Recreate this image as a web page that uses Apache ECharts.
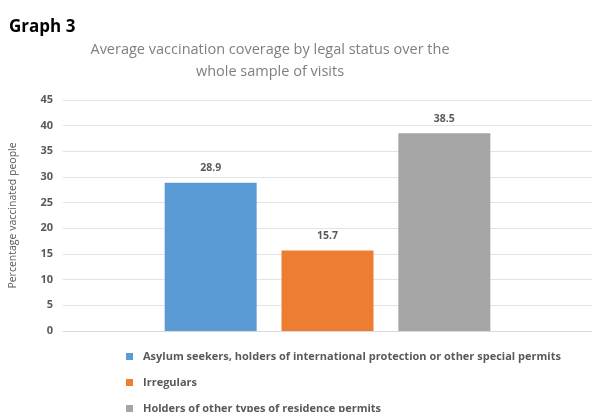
<!DOCTYPE html>
<html>
<head>
<meta charset="utf-8">
<script src="https://cdn.jsdelivr.net/npm/echarts@6/dist/echarts.min.js"></script>
<style>
  html, body { margin: 0; padding: 0; background: #fff; }
  #chart { width: 592px; height: 412px; }
</style>
</head>
<body>
<div id="chart"></div>
<script>
// Legal-status groups and their average vaccination coverage (%)
const statusNames = [
  'Asylum seekers, holders of international protection or other special permits',
  'Irregulars',
  'Holders of other types of residence permits'
];
const coverageValues = [28.9, 15.7, 38.5];
const seriesColors = ['#5B9BD5', '#ED7D31', '#A5A5A5'];
const yTicks = [0, 5, 10, 15, 20, 25, 30, 35, 40, 45];

const chart = echarts.init(document.getElementById('chart'), null, { renderer: 'canvas' });

const series = statusNames.map((name, i) => ({
  name: name,
  type: 'bar',
  data: [coverageValues[i]],
  barWidth: 92,
  barGap: '27%',
  itemStyle: { color: seriesColors[i] },
  label: {
    show: true,
    position: 'top',
    distance: 9,
    color: '#595959',
    fontFamily: 'Open Sans',
    fontWeight: 'bold',
    fontSize: 10.5,
    formatter: p => p.value.toFixed(1)
  }
}));

chart.setOption({
  animation: false,
  textStyle: { fontFamily: 'Open Sans' },
  title: [
    {
      text: 'Graph 3',
      left: 9,
      top: 19,
      padding: 0,
      textStyle: { fontFamily: 'Open Sans', fontWeight: 'bold', fontSize: 17, color: '#000' }
    },
    {
      text: 'Average vaccination coverage by legal status over the\nwhole sample of visits',
      left: 270,
      top: 39,
      padding: 0,
      textAlign: 'center',
      textStyle: { fontFamily: 'Open Sans', fontWeight: 'normal', fontSize: 14.5, color: '#7f7f7f', lineHeight: 22 }
    }
  ],
  legend: {
    orient: 'vertical',
    left: 126,
    top: 349,
    height: 80,
    padding: 0,
    itemGap: 11,
    itemWidth: 7,
    itemHeight: 7,
    icon: 'rect',
    textStyle: { fontFamily: 'Open Sans', fontWeight: 'bold', fontSize: 11, lineHeight: 15, color: '#595959', padding: [0, 0, 0, 5] },
    data: statusNames
  },
  grid: { left: 62, right: 0, top: 100, bottom: 81, containLabel: false },
  xAxis: {
    type: 'category',
    data: [''],
    axisLine: { lineStyle: { color: '#d9d9d9' } },
    axisTick: { show: false },
    axisLabel: { show: false }
  },
  yAxis: {
    type: 'value',
    min: yTicks[0],
    max: yTicks[yTicks.length - 1],
    interval: 5,
    name: 'Percentage vaccinated people',
    nameLocation: 'middle',
    nameGap: 44,
    nameTextStyle: { fontFamily: 'Open Sans', fontSize: 10.5, color: '#595959' },
    axisLine: { show: false },
    axisTick: { show: false },
    axisLabel: { color: '#595959', fontSize: 11, fontWeight: 'bold', margin: 10 },
    splitLine: { lineStyle: { color: '#e3e3e3', width: 1 } }
  },
  series: series
});
</script>
</body>
</html>
